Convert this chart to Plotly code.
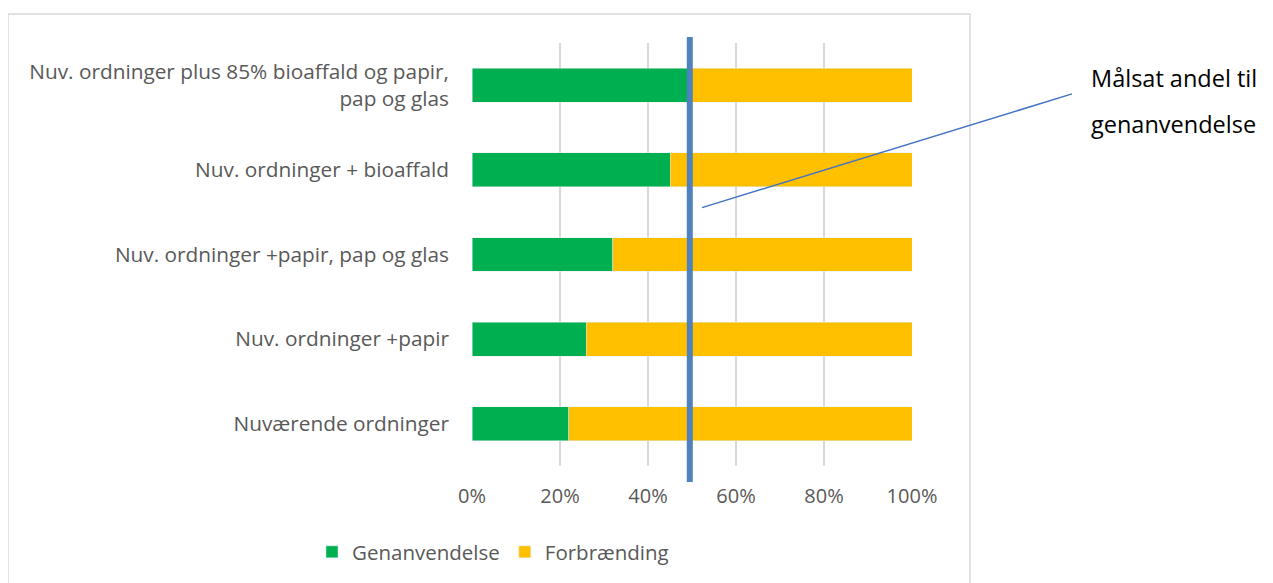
import plotly.graph_objects as go

categories = [
    "Nuværende ordninger",
    "Nuv. ordninger +papir",
    "Nuv. ordninger +papir, pap og glas",
    "Nuv. ordninger + bioaffald",
    "Nuv. ordninger plus 85% bioaffald og papir,<br>pap og glas",
]
genanvendelse = [22, 26, 32, 45, 49]
forbraending = [78, 74, 68, 55, 51]
target = 49.5
tick_vals = [0, 20, 40, 60, 80, 100]
tick_text = ["0%", "20%", "40%", "60%", "80%", "100%"]

FONT = "Open Sans"
GRAY = "#595959"

fig = go.Figure()
fig.add_trace(go.Bar(y=categories, x=genanvendelse, orientation="h", name="Genanvendelse",
                     marker=dict(color="#00b050")))
fig.add_trace(go.Bar(y=categories, x=forbraending, orientation="h", name="Forbrænding",
                     marker=dict(color="#ffc000")))

# plot area in screenshot pixels; page has an 8px body offset
OFF = 8
L, R, T, B = 472, 912, 43, 467
W, H = 1273 - OFF, 583 - OFF

def px(xp):
    return (xp - L) / (R - L)

def py(yp):
    return (B - yp) / (B - T)

fig.update_layout(
    barmode="stack",
    bargap=0.6,
    width=W, height=H,
    margin=dict(l=L - OFF, r=W - (R - OFF), t=T - OFF, b=H - (B - OFF), pad=0),
    paper_bgcolor="white",
    plot_bgcolor="white",
    font=dict(family=FONT, size=20, color=GRAY),
    showlegend=True,
    legend=dict(orientation="h", x=px(493), xanchor="center", y=py(552), yanchor="middle",
                font=dict(family=FONT, size=20.5, color=GRAY), traceorder="normal",
                itemwidth=30, bgcolor="rgba(0,0,0,0)"),
    xaxis=dict(range=[0, 100], tickvals=tick_vals, ticktext=tick_text, showgrid=True,
               gridcolor="#d9d9d9", gridwidth=1.5, zeroline=False, showline=False,
               ticks="", ticklabelstandoff=16, tickfont=dict(family=FONT, size=20, color=GRAY),
               fixedrange=True),
    yaxis=dict(showgrid=False, zeroline=False, showline=False, ticks="",
               ticklabelstandoff=22, tickfont=dict(family=FONT, size=20.8, color=GRAY),
               fixedrange=True),
)

# outer chart border
fig.add_shape(type="rect", xref="paper", yref="paper",
              x0=px(8), x1=px(970), y0=py(600), y1=py(14),
              line=dict(color="#d9d9d9", width=1.5), fillcolor="rgba(0,0,0,0)", layer="below")

# target line
fig.add_shape(type="line", xref="x", yref="paper", x0=target, x1=target,
              y0=py(483), y1=py(37), line=dict(color="#4f81bd", width=6))

# callout line
fig.add_shape(type="line", xref="paper", yref="paper",
              x0=px(702), y0=py(208), x1=px(1072), y1=py(94),
              line=dict(color="#4472c4", width=1.5))

fig.add_annotation(text="Målsat andel til", xref="paper", yref="paper",
                   x=px(1089), y=py(78), xanchor="left", yanchor="middle", showarrow=False,
                   font=dict(family=FONT, size=23.5, color="#000000"))
fig.add_annotation(text="genanvendelse", xref="paper", yref="paper",
                   x=px(1089), y=py(124), xanchor="left", yanchor="middle", showarrow=False,
                   font=dict(family=FONT, size=23.5, color="#000000"))

fig.write_html("out.html")
